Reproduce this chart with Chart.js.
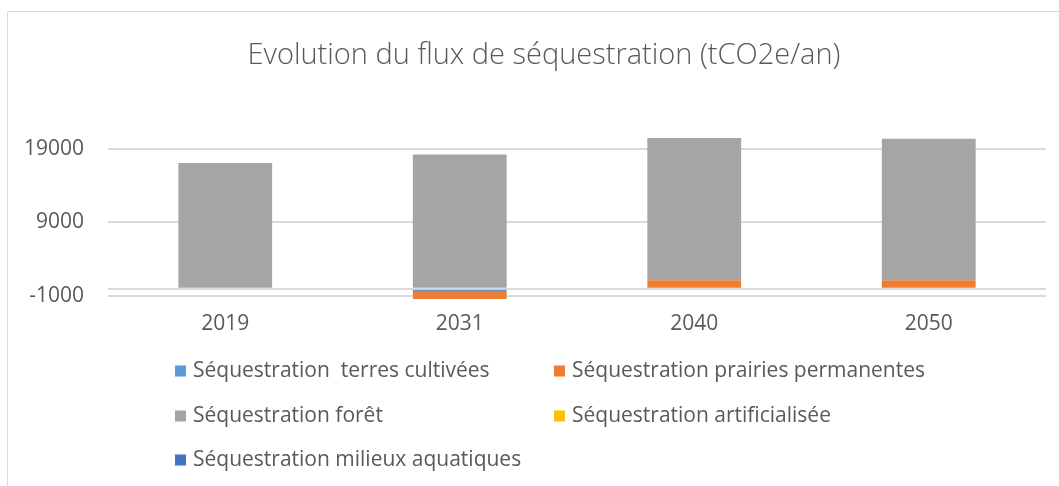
<!DOCTYPE html>
<html><head><meta charset="utf-8">
<script src="https://cdn.jsdelivr.net/npm/chart.js@4.4.1/dist/chart.umd.min.js"></script>
<style>html,body{margin:0;padding:0;background:#fff}#wrap{width:1059px;height:486px;position:relative}canvas{display:block}</style>
</head><body><div id="wrap"><canvas id="c" width="1059" height="486"></canvas></div>
<script>
const categories = ['2019', '2031', '2040', '2050'];
const seriesNames = [
  'Séquestration  terres cultivées',
  'Séquestration prairies permanentes',
  'Séquestration forêt',
  'Séquestration artificialisée',
  'Séquestration milieux aquatiques'
];
const terresCultivees   = [0, -450, 0, 0];
const prairiesPermanentes = [0, -950, 1150, 1150];
const foret             = [17050, 18200, 19290, 19190];
const artificialisee    = [0, 0, 0, 0];
const milieuxAquatiques = [0, 0, 0, 0];
const yTickValues = [-1000, 9000, 19000];
const chartTitle = 'Evolution du flux de séquestration (tCO2e/an)';
const seriesColors = ['#5B9BD5', '#ED7D31', '#A5A5A5', '#FFC000', '#4472C4'];

const seriesValues = [terresCultivees, prairiesPermanentes, foret, artificialisee, milieuxAquatiques];
const FONT = "'Open Sans', 'Liberation Sans', sans-serif";
const TXT = '#595959';
const GRID = '#d9d9d9';

const framePlugin = {
  id: 'frame',
  beforeDraw(chart) {
    const ctx = chart.ctx;
    ctx.save();
    ctx.fillStyle = '#fff';
    ctx.fillRect(0, 0, chart.width, chart.height);
    ctx.strokeStyle = GRID;
    ctx.lineWidth = 1;
    ctx.beginPath();
    ctx.moveTo(7.5, chart.height);
    ctx.lineTo(7.5, 11.5);
    ctx.lineTo(chart.width, 11.5);
    ctx.stroke();
    ctx.restore();
  },
  afterDraw(chart) {
    const ctx = chart.ctx;
    ctx.save();
    ctx.font = "300 29px " + FONT;
    ctx.fillStyle = TXT;
    ctx.textAlign = 'center';
    ctx.textBaseline = 'middle';
    ctx.fillText(chartTitle, 544, 55.5);
    ctx.restore();
  }
};

const legendPlugin = {
  id: 'gridLegend',
  afterDraw(chart) {
    const ctx = chart.ctx;
    const cols = [175, 554];
    const rows = [371, 416, 460];
    ctx.save();
    ctx.font = "21px " + FONT;
    ctx.textBaseline = 'middle';
    ctx.textAlign = 'left';
    chart.data.datasets.forEach((ds, i) => {
      const x = cols[i % 2];
      const y = rows[Math.floor(i / 2)];
      ctx.fillStyle = ds.backgroundColor;
      ctx.fillRect(x, y - 5.5, 11, 11);
      ctx.fillStyle = TXT;
      ctx.fillText(ds.label, x + 18, y);
    });
    ctx.restore();
  }
};

new Chart(document.getElementById('c'), {
  type: 'bar',
  data: {
    labels: categories,
    datasets: seriesNames.map((name, i) => ({
      label: name,
      data: seriesValues[i],
      backgroundColor: seriesColors[i],
      borderWidth: 0,
      barPercentage: 0.4,
      categoryPercentage: 1.0
    }))
  },
  options: {
    responsive: false,
    devicePixelRatio: 1,
    animation: false,
    layout: { padding: { top: 133.8, left: 0, right: 13, bottom: 137 } },
    plugins: {
      legend: { display: false },
      tooltip: { enabled: false },
      title: { display: false }
    },
    scales: {
      x: {
        stacked: true,
        grid: { display: false, drawTicks: false },
        border: { display: false },
        ticks: { color: TXT, font: { family: FONT, size: 21 }, padding: 12 }
      },
      y: {
        stacked: true,
        min: -1500,
        max: 21000,
        afterBuildTicks(scale) {
          scale.ticks = [-1000, 0, 9000, 19000].map(v => ({ value: v }));
        },
        afterFit(scale) { scale.width = 108; },
        grid: { color: GRID, lineWidth: 2, drawTicks: false },
        border: { display: false },
        ticks: {
          color: TXT,
          font: { family: FONT, size: 21 },
          padding: 24,
          callback: v => (yTickValues.includes(v) ? String(v) : '')
        }
      }
    }
  },
  plugins: [framePlugin, legendPlugin]
});
</script>
</body></html>
